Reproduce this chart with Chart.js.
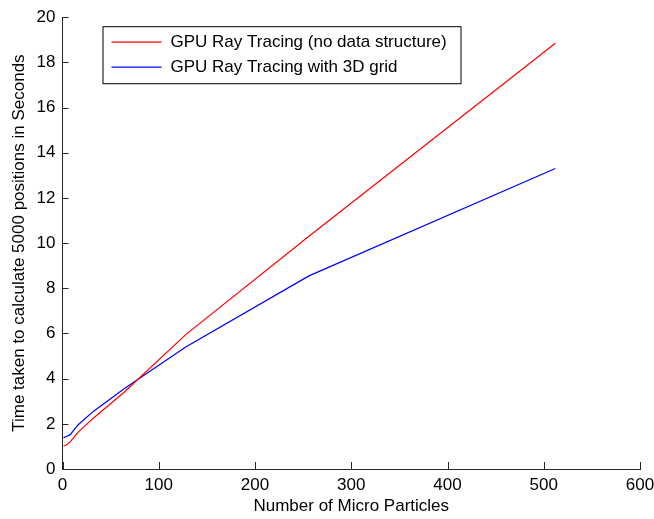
<!DOCTYPE html>
<html>
<head>
<meta charset="utf-8">
<script src="https://cdn.jsdelivr.net/npm/chart.js@4"></script>
<style>
	html, body { margin: 0; padding: 0; background: #fff; }
	#wrap { width: 654px; height: 519px; }
</style>
</head>
<body>
<div id="wrap"><canvas id="canvas-chart-line-gpu"></canvas></div>
<script>
var particulas=[1, 2, 4, 8, 16, 32, 64, 128, 256, 512];
var tiempoSinEstructura=[1.03, 1.03, 1.06, 1.2, 1.62, 2.25, 3.4, 5.95, 10.3, 18.85];
var tiempoGrid3D=[1.38, 1.4, 1.44, 1.52, 1.95, 2.55, 3.55, 5.4, 8.55, 13.3];
var ticksX=[0, 100, 200, 300, 400, 500, 600];
var ticksY=[0, 2, 4, 6, 8, 10, 12, 14, 16, 18, 20];

var fuente="'Liberation Sans', Arial, sans-serif";
var colorEje='#262626';

// marcas de los ejes hacia dentro, como en matlab
var pluginTicksDentro={
	id: 'ticksDentro',
	afterDraw: function(chart){
		var ctx=chart.ctx;
		var area=chart.chartArea;
		var sx=chart.scales.x, sy=chart.scales.y;
		ctx.save();
		ctx.strokeStyle=colorEje;
		ctx.lineWidth=1;
		ctx.beginPath();
		ticksX.forEach(function(v){
			var px=Math.round(sx.getPixelForValue(v))+0.5;
			ctx.moveTo(px, area.bottom);
			ctx.lineTo(px, area.bottom-7);
		});
		ticksY.forEach(function(v){
			var py=Math.round(sy.getPixelForValue(v))+0.5;
			ctx.moveTo(area.left, py);
			ctx.lineTo(area.left+6, py);
		});
		ctx.stroke();
		ctx.restore();
	}
};

// leyenda con recuadro dentro del area del grafico
var pluginLeyenda={
	id: 'leyendaCaja',
	afterDraw: function(chart){
		var ctx=chart.ctx;
		var area=chart.chartArea;
		var x0=area.left+40, y0=area.top+9;
		ctx.save();
		ctx.fillStyle='#fff';
		ctx.fillRect(x0, y0, 358, 57);
		ctx.strokeStyle='#000';
		ctx.lineWidth=1;
		ctx.strokeRect(x0+0.5, y0+0.5, 358, 57);
		ctx.font='17px '+fuente;
		ctx.textBaseline='middle';
		chart.data.datasets.forEach(function(ds, i){
			var y=y0+16+i*25;
			ctx.strokeStyle=ds.borderColor;
			ctx.lineWidth=1.2;
			ctx.beginPath();
			ctx.moveTo(x0+9, y);
			ctx.lineTo(x0+59, y);
			ctx.stroke();
			ctx.fillStyle='#000';
			ctx.fillText(ds.label, x0+68, y);
		});
		ctx.restore();
	}
};

const canvasGpu=document.getElementById('canvas-chart-line-gpu').getContext('2d');
var chartGpu;

function chartTiempos(){
	chartGpu=new Chart(canvasGpu, {
		type: 'line',
		data: {
			datasets: [{
				label: 'GPU Ray Tracing (no data structure)',
				data: particulas.map(function(p, i){ return {x: p, y: tiempoSinEstructura[i]}; }),
				borderColor: '#ff0000',
				borderWidth: 1.2,
				pointRadius: 0,
				fill: false,
				tension: 0
			},
			{
				label: 'GPU Ray Tracing with 3D grid',
				data: particulas.map(function(p, i){ return {x: p, y: tiempoGrid3D[i]}; }),
				borderColor: '#0000ff',
				borderWidth: 1.2,
				pointRadius: 0,
				fill: false,
				tension: 0
			}]
		},
		options: {
			responsive: true,
			maintainAspectRatio: false,
			animation: false,
			layout: {
				padding: {top: 15, right: 0, left: 0, bottom: 0}
			},
			plugins: {
				legend: {display: false},
				tooltip: {enabled: false}
			},
			scales: {
				x: {
					type: 'linear',
					min: 0,
					max: 600,
					afterBuildTicks: function(s){ s.ticks=ticksX.map(function(v){ return {value: v}; }); },
					afterFit: function(s){ s.height=50; s.paddingRight=14; s.paddingLeft=0; },
					grid: {display: false, drawTicks: false},
					border: {display: true, color: colorEje, width: 1},
					ticks: {color: '#000', padding: 6, maxRotation: 0, font: {family: fuente, size: 17}},
					title: {display: true, text: 'Number of Micro Particles', color: '#000', padding: {top: 0, bottom: 2}, font: {family: fuente, size: 17}}
				},
				y: {
					min: 0,
					max: 20,
					afterBuildTicks: function(s){ s.ticks=ticksY.map(function(v){ return {value: v}; }); },
					afterFit: function(s){ s.width=62.5; },
					grid: {display: false, drawTicks: false},
					border: {display: true, color: colorEje, width: 1},
					ticks: {color: '#000', padding: 7, font: {family: fuente, size: 17}},
					title: {display: true, text: 'Time taken to calculate 5000 positions in Seconds', color: '#000', padding: {top: 9, bottom: 0}, font: {family: fuente, size: 17}}
				}
			}
		},
		plugins: [pluginTicksDentro, pluginLeyenda]
	});
}

chartTiempos();
</script>
</body>
</html>
